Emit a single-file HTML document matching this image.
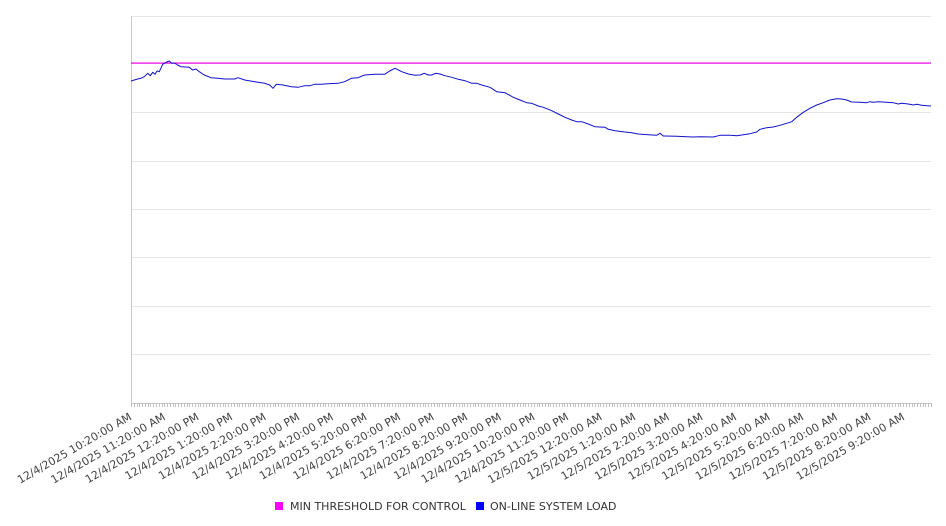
<!DOCTYPE html>
<html>
<head>
<meta charset="utf-8">
<style>
  html, body { margin: 0; padding: 0; background: #ffffff; }
  body { width: 946px; height: 526px; overflow: hidden; }
  svg { display: block; }
  text { font-family: "DejaVu Sans", "Liberation Sans", sans-serif; font-size: 11px; fill: #444; }
</style>
</head>
<body>
<svg width="946" height="526" viewBox="0 0 946 526" xmlns="http://www.w3.org/2000/svg">
  <!-- gridlines -->
  <g stroke="#e6e6e6" stroke-width="1">
    <line x1="131" y1="16.5" x2="931" y2="16.5"/>
    <line x1="131" y1="112.5" x2="931" y2="112.5"/>
    <line x1="131" y1="161.5" x2="931" y2="161.5"/>
    <line x1="131" y1="209.5" x2="931" y2="209.5"/>
    <line x1="131" y1="257.5" x2="931" y2="257.5"/>
    <line x1="131" y1="306.5" x2="931" y2="306.5"/>
    <line x1="131" y1="354.5" x2="931" y2="354.5"/>
  </g>
  <!-- axes -->
  <line x1="131.5" y1="16" x2="131.5" y2="403" stroke="#c8c8c8" stroke-width="1"/>
  <line x1="131" y1="403.5" x2="931" y2="403.5" stroke="#c8c8c8" stroke-width="1"/>
  <!-- minor ticks -->
  <g id="ticks" stroke="#c0c0c0" stroke-width="1"></g>

  <!-- threshold -->
  <rect x="131" y="62.5" width="800" height="1.2" fill="#e600e6"/>

  <!-- system load -->
  <polyline fill="none" stroke="#1010c8" stroke-width="1" stroke-linejoin="round" points="
131,81 134.3,80 137.7,79 141,78.3 144.3,76.7 147.7,73.3 150.3,75.7 152.7,72.3 155,74.3 157,71 159.3,71.7
162.7,64.3 166,62.3 169.3,61 171.7,63.3 174.3,63 177.7,65 181,66.7 189.3,67.3 192.7,70 196,69 199.3,71.7
204.3,75 211,77.7 217.7,78.3 224.7,79 234.7,79 238,77.7 244.7,80 254.7,81.7 264.7,83.3 269.7,85 273,88.3
276.3,84.3 283,85 291.3,86.7 298,87.3 304.7,85.7 309.7,85.7 314.7,84.3 321.3,84.3 328,83.7 338,83.3
344.7,81.7 351.3,78.3 358,77.7 364.7,75 374.7,74.3 384.7,74.3 389.7,71 395,68.3 401.7,71.7 408.3,74
415,75.3 420,75 424.3,73.3 428.3,75 431.7,75 435.7,73.3 440,74 445,75.7 451.7,77.3 458.3,79.3 465,80.7
471.7,83.3 476.7,83.3 481.7,85 490,87.3 496.7,91.7 505,92.7 513.3,97.3 520,100 526.7,102.7 531.7,103.3
538.3,106 543.3,107.3 551.7,110.7 558.3,114 565,117.3 571.7,120 576.7,121.7 581.7,121.7 588.3,124
595,126.7 605,127.3 608.3,129.3 615,130.7 625,132 631.7,132.7 638.3,134 648.3,134.7 656.7,135.3 660,133.3
663.3,136 665,136 676.7,136.3 686.7,136.7 693.3,137 700,136.7 713.3,137 720,135.3 730,135.3 736.7,135.7
743.3,134.7 750,133.7 756.7,132 760,129.3 766.7,127.7 773.3,127 780,125.3 786.7,123.3 791.7,121.7
796.7,117.3 803.3,112.3 810,108.3 816.7,105 823.3,102.7 830,100 836.7,98.7 841.7,99 846.7,100 851.7,102
860,102.3 866.7,102.7 870,101.7 873.3,102.3 878.3,101.7 886.7,102.3 893.3,102.7 898.3,104 901.7,103.3
908.3,104 913.3,105 916.7,104.3 921.7,105.3 926.7,105.7 931,106"/>

  <!-- x labels -->
  <g id="labels"></g>

  <!-- legend -->
  <rect x="275" y="502" width="8" height="8" fill="#ff00ff"/>
  <text x="290" y="510" style="fill:#333">MIN THRESHOLD FOR CONTROL</text>
  <rect x="476" y="502" width="8" height="8" fill="#0000ff"/>
  <text x="490" y="510" style="fill:#333">ON-LINE SYSTEM LOAD</text>
</svg>
<script>
(function(){
  var NS = "http://www.w3.org/2000/svg";
  var t = document.getElementById("ticks");
  var step = 800/288;
  for (var i = 0; i <= 288; i++) {
    var x = Math.round(131 + i*step) + 0.5;
    var l = document.createElementNS(NS, "line");
    l.setAttribute("x1", x); l.setAttribute("x2", x);
    l.setAttribute("y1", 403); l.setAttribute("y2", 407);
    t.appendChild(l);
  }
  var labels = [
    "12/4/2025 10:20:00 AM","12/4/2025 11:20:00 AM","12/4/2025 12:20:00 PM","12/4/2025 1:20:00 PM",
    "12/4/2025 2:20:00 PM","12/4/2025 3:20:00 PM","12/4/2025 4:20:00 PM","12/4/2025 5:20:00 PM",
    "12/4/2025 6:20:00 PM","12/4/2025 7:20:00 PM","12/4/2025 8:20:00 PM","12/4/2025 9:20:00 PM",
    "12/4/2025 10:20:00 PM","12/4/2025 11:20:00 PM","12/5/2025 12:20:00 AM","12/5/2025 1:20:00 AM",
    "12/5/2025 2:20:00 AM","12/5/2025 3:20:00 AM","12/5/2025 4:20:00 AM","12/5/2025 5:20:00 AM",
    "12/5/2025 6:20:00 AM","12/5/2025 7:20:00 AM","12/5/2025 8:20:00 AM","12/5/2025 9:20:00 AM"
  ];
  var g = document.getElementById("labels");
  for (var j = 0; j < labels.length; j++) {
    var x = 132.5 + j*33.6;
    var y = 419;
    var tx = document.createElementNS(NS, "text");
    tx.setAttribute("x", x.toFixed(1)); tx.setAttribute("y", y);
    tx.setAttribute("text-anchor", "end");
    tx.setAttribute("transform", "rotate(-30 " + x.toFixed(1) + " " + y + ")");
    tx.textContent = labels[j];
    g.appendChild(tx);
  }
})();
</script>
</body>
</html>
